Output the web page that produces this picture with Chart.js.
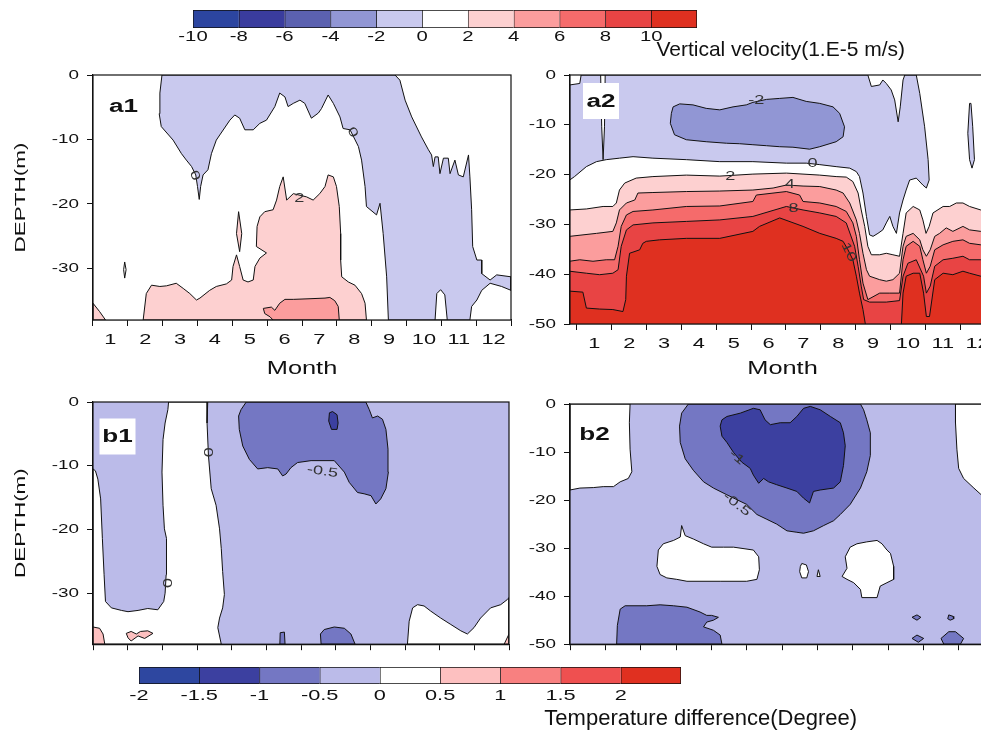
<!DOCTYPE html>
<html lang="en">
<head>
<meta charset="UTF-8">
<title>Vertical velocity and temperature difference</title>
<script src="https://cdn.jsdelivr.net/npm/chart.js"></script>
<style>
  html, body { margin: 0; overflow: hidden; background: #fff; }
  body { position: relative; width: 981px; height: 734px; font-family: 'Liberation Sans', Arial, sans-serif; }
  canvas { position: absolute; }
  .cbtitle { position: absolute; white-space: nowrap; line-height: 1; color: #111; }
</style>
</head>
<body>
<canvas id="cbTop" width="600" height="46" style="left:150px; top:0px"></canvas>
<div class="cbtitle" style="right:76px; top:38px; font-size:21px">Vertical velocity(1.E-5 m/s)</div>
<canvas id="a1" width="525" height="330" style="left:0px; top:55px"></canvas>
<canvas id="a2" width="480" height="330" style="left:525px; top:55px"></canvas>
<canvas id="b1" width="525" height="275" style="left:0px; top:385px"></canvas>
<canvas id="b2" width="480" height="275" style="left:525px; top:385px"></canvas>
<canvas id="cbBottom" width="640" height="52" style="left:100px; top:655px"></canvas>
<div class="cbtitle" style="right:124px; top:707px; font-size:22px">Temperature difference(Degree)</div>

<script>
// ---- axes ----
const months = [1, 2, 3, 4, 5, 6, 7, 8, 9, 10, 11, 12];
const depthTicks38 = [0, -10, -20, -30];
const depthTicks50 = [0, -10, -20, -30, -40, -50];

// ---- colour classes ----
const velLevels = [-10, -8, -6, -4, -2, 0, 2, 4, 6, 8, 10, 12];
const velTicks = [-10, -8, -6, -4, -2, 0, 2, 4, 6, 8, 10];
const velColors = ['#2c45a0', '#3a3c9e', '#5b61b0', '#9196d4', '#c9c9ee', '#ffffff',
                   '#fdd0d0', '#fb9d9d', '#f56b6b', '#e84444', '#df3020'];
const tempLevels = [-2, -1.5, -1, -0.5, 0, 0.5, 1, 1.5, 2, 2.5];
const tempTicks = [-2, -1.5, -1, -0.5, 0, 0.5, 1, 1.5, 2];
const tempColors = ['#2e47a0', '#3c40a0', '#7477c3', '#bbbbe9', '#ffffff',
                    '#fdc0c0', '#f88080', '#ef5050', '#e03020'];

// ---- a1: vertical velocity, contour regions as [month, depth] ----
const a1Neg = [[2.48,0],[9.17,0],[9.31,-0.8],[9.46,-3.9],[9.65,-6.5],[9.93,-9.6],[10.13,-11.6],[10.22,-12.4],[10.27,-14.2],[10.32,-12.7],[10.41,-12.7],[10.46,-15.3],[10.56,-12.9],[10.70,-12.9],[10.75,-15.3],[10.89,-13.2],[10.99,-15.5],[11.13,-15.8],[11.28,-12.4],[11.32,-15.8],[11.37,-20.9],[11.40,-26.6],[11.52,-28.7],[11.66,-28.7],[11.66,-30.8],[11.90,-31.8],[12.09,-31.0],[12.5,-31.3],[12.5,-33.4],[12.23,-32.8],[11.90,-32.3],[11.66,-33.4],[11.52,-34.9],[11.37,-35.9],[11.32,-38],[8.98,-38],[8.93,-31.3],[8.83,-24.6],[8.74,-19.9],[8.64,-21.7],[8.35,-20.4],[8.31,-17.3],[8.21,-13.2],[8.12,-11.1],[7.88,-8.5],[7.68,-8.3],[7.59,-6.5],[7.40,-4.4],[7.25,-3.1],[7.06,-5.2],[6.97,-5.9],[6.77,-6.7],[6.58,-4.4],[6.44,-3.9],[6.25,-4.4],[6.10,-4.9],[6.01,-3.4],[5.86,-2.8],[5.72,-4.9],[5.48,-7.0],[5.29,-7.5],[5.10,-8.5],[4.86,-8.5],[4.71,-6.7],[4.57,-6.2],[4.43,-7.0],[4.14,-9.3],[4.04,-10.1],[3.90,-12.2],[3.80,-14.7],[3.66,-15.5],[3.59,-17.3],[3.55,-19.3],[3.50,-17.3],[3.45,-15.5],[3.33,-14.2],[3.18,-13.2],[3.04,-12.2],[2.80,-10.1],[2.46,-8.0],[2.40,-6.0],[2.42,-2.8]];
const a1Gap = [[10.32,-38],[10.37,-33.9],[10.48,-33.3],[10.60,-34.1],[10.67,-38]];
const a1Pos2 = [[1.94,-38],[2.03,-33.9],[2.18,-32.6],[2.42,-32.8],[2.61,-32.7],[2.89,-32.3],[3.09,-33.1],[3.28,-33.9],[3.47,-34.9],[3.57,-34.6],[3.85,-33.4],[4.04,-32.8],[4.33,-32.4],[4.48,-31.8],[4.52,-29.7],[4.62,-27.9],[4.71,-29.7],[4.81,-31.8],[4.95,-32.1],[5.10,-31.8],[5.15,-29.7],[5.29,-28.4],[5.48,-27.6],[5.19,-26.6],[5.21,-23.5],[5.29,-22.0],[5.43,-21.2],[5.67,-20.9],[5.77,-19.4],[5.86,-17.3],[5.96,-15.8],[6.06,-19.4],[6.25,-18.4],[6.63,-18.9],[6.82,-19.4],[7.01,-18.4],[7.16,-17.3],[7.25,-15.5],[7.40,-15.8],[7.49,-17.3],[7.57,-20.4],[7.61,-24.6],[7.61,-28.7],[7.64,-31.3],[7.83,-32.1],[8.02,-32.6],[8.21,-33.9],[8.31,-35.4],[8.35,-38]];
const a1Spike = [[4.62,-24.6],[4.68,-21.2],[4.77,-24.6],[4.71,-27.4]];
const a1Corner = [[0.5,-35.4],[0.69,-36.7],[0.86,-38],[0.5,-38]];
const a1Pos4 = [[5.67,-38],[5.58,-37.5],[5.43,-37.0],[5.39,-36.2],[5.62,-36.0],[5.72,-36.5],[5.86,-35.4],[6.01,-34.8],[6.25,-34.8],[6.73,-34.7],[7.16,-34.6],[7.30,-34.5],[7.44,-35.0],[7.54,-35.9],[7.57,-38]];
const a1Loop = [[1.38,-30.2],[1.41,-29.0],[1.45,-30.2],[1.41,-31.5]];
const a1Labels = [[3.42,-15.6,'0',70],[7.95,-8.9,'0',60],[6.42,-19.2,'2',0]];

// ---- a2 ----
const a2Neg = [[0.62,0],[8.85,0],[8.95,-2.3],[9.19,-2.0],[9.28,-1.0],[9.38,-1.7],[9.52,-3.0],[9.62,-5.0],[9.72,-9.4],[9.78,-6.4],[9.86,-1.0],[9.91,0],[10.24,0],[10.34,-3.7],[10.48,-10.4],[10.58,-17.0],[10.61,-21.1],[10.53,-22.7],[10.43,-22.1],[10.24,-20.7],[10.05,-21.1],[9.95,-23.1],[9.86,-25.1],[9.76,-27.7],[9.67,-31.8],[9.57,-30.4],[9.48,-28.4],[9.38,-29.7],[9.28,-31.1],[9.14,-31.8],[9.00,-32.4],[8.90,-32.1],[8.81,-28.4],[8.71,-23.7],[8.61,-20.4],[8.52,-19.4],[8.33,-18.7],[7.94,-18.4],[7.47,-18.0],[7.08,-17.7],[6.51,-17.7],[5.55,-17.4],[4.60,-17.4],[3.64,-17.0],[2.68,-16.7],[2.11,-16.4],[1.72,-16.7],[1.34,-17.0],[1.06,-17.4],[0.77,-18.4],[0.43,-20.4],[0.29,-21.1],[0.29,-2.0],[0.58,-1.7]];
const a2Gap = [[1.18,0],[1.21,-10.4],[1.25,-17.0],[1.29,-10.4],[1.31,0]];
const a2Sliver = [[11.77,-5.7],[11.72,-11.7],[11.77,-17.0],[11.84,-18.7],[11.91,-17.0],[11.86,-10.4],[11.81,-5.7]];
const a2Neg2 = [[3.26,-6.4],[3.45,-5.8],[3.83,-6.0],[4.21,-6.7],[4.60,-7.0],[4.98,-6.4],[5.36,-6.0],[5.55,-5.5],[5.94,-4.9],[6.32,-4.7],[6.70,-4.5],[7.08,-5.3],[7.47,-5.7],[7.85,-6.4],[8.04,-7.7],[8.18,-10.4],[8.14,-12.4],[7.94,-13.4],[7.47,-14.4],[7.18,-14.9],[6.70,-14.5],[6.32,-14.4],[5.94,-14.2],[5.55,-14.0],[5.17,-13.8],[4.79,-13.7],[4.21,-13.4],[3.64,-13.0],[3.30,-12.0],[3.18,-9.7],[3.21,-7.7]];
// depth of the 2, 4, 6, 8 and 10 contours across the year
const a2C2 = [[0.29,-27.1],[0.77,-26.9],[1.25,-26.4],[1.53,-26.4],[1.63,-25.7],[1.72,-23.1],[1.87,-21.7],[2.20,-20.7],[2.68,-20.4],[3.64,-20.1],[4.60,-20.3],[5.55,-19.9],[6.51,-19.7],[7.47,-20.1],[7.94,-20.4],[8.23,-20.5],[8.42,-21.4],[8.57,-23.7],[8.66,-27.1],[8.76,-30.4],[8.85,-34.4],[8.95,-36.1],[9.19,-36.1],[9.38,-35.8],[9.57,-36.1],[9.76,-36.4],[9.86,-31.8],[9.95,-27.7],[10.15,-26.4],[10.34,-27.1],[10.43,-29.1],[10.52,-31.8],[10.61,-30.4],[10.72,-27.7],[11.01,-26.4],[11.20,-26.4],[11.39,-25.7],[11.58,-25.7],[11.77,-26.4],[12.09,-27.1],[12.5,-27.5]];
const a2C4 = [[0.29,-32.4],[1.06,-31.8],[1.53,-31.4],[1.63,-29.7],[1.72,-27.1],[1.92,-25.7],[2.16,-25.1],[2.25,-23.7],[2.68,-23.6],[3.64,-23.4],[4.60,-23.3],[5.55,-23.1],[6.13,-22.7],[6.51,-22.1],[6.99,-22.3],[7.47,-22.4],[7.94,-23.1],[8.14,-23.7],[8.33,-25.7],[8.52,-29.1],[8.61,-31.8],[8.71,-35.8],[8.81,-39.1],[8.90,-40.4],[9.19,-41.1],[9.38,-41.4],[9.57,-41.1],[9.76,-39.8],[9.86,-34.4],[9.95,-32.4],[10.15,-31.8],[10.34,-33.1],[10.43,-35.1],[10.53,-36.4],[10.64,-35.1],[10.77,-32.4],[10.91,-31.8],[11.10,-30.7],[11.29,-31.4],[11.58,-30.4],[11.77,-31.1],[12.09,-31.4],[12.5,-31.6]];
const a2C6 = [[0.29,-37.4],[0.58,-37.1],[0.96,-37.4],[1.34,-37.1],[1.58,-37.1],[1.68,-34.4],[1.77,-30.4],[1.92,-28.1],[2.11,-27.4],[2.68,-27.1],[3.64,-26.4],[4.60,-26.3],[5.55,-25.4],[5.65,-24.1],[6.51,-23.4],[6.89,-24.1],[6.99,-25.4],[7.47,-25.7],[7.94,-26.4],[8.23,-27.4],[8.42,-29.7],[8.52,-32.4],[8.61,-37.1],[8.71,-41.8],[8.85,-45.1],[9.19,-43.8],[9.48,-43.8],[9.76,-43.8],[9.86,-37.1],[9.95,-34.4],[10.15,-33.4],[10.34,-34.4],[10.43,-37.1],[10.53,-39.8],[10.64,-38.4],[10.77,-35.1],[11.01,-34.1],[11.29,-33.4],[11.58,-33.1],[11.77,-33.8],[12.09,-34.1],[12.5,-34.4]];
const a2C8 = [[0.29,-39.4],[0.77,-39.8],[1.15,-40.1],[1.53,-39.8],[1.68,-39.1],[1.77,-34.4],[1.92,-31.1],[2.11,-30.1],[2.68,-29.7],[3.64,-29.4],[4.60,-29.1],[5.55,-28.4],[6.51,-26.4],[6.99,-27.1],[7.47,-27.7],[7.94,-28.4],[8.23,-29.7],[8.47,-34.4],[8.57,-38.4],[8.66,-42.4],[8.73,-45.1],[8.90,-45.6],[9.38,-45.6],[9.76,-45.3],[9.86,-40.4],[10.00,-37.8],[10.24,-37.1],[10.45,-40.4],[10.53,-43.8],[10.64,-42.4],[10.77,-38.4],[11.01,-37.1],[11.29,-36.8],[11.58,-36.4],[11.77,-37.1],[12.09,-37.1],[12.5,-37.4]];
const a2C10 = [[0.29,-43.4],[0.67,-43.6],[0.77,-46.8],[1.15,-47.0],[1.53,-47.1],[1.82,-47.5],[1.90,-45.1],[1.92,-40.4],[2.01,-35.8],[2.30,-35.1],[2.39,-33.8],[2.49,-33.4],[2.87,-33.1],[3.64,-32.8],[4.60,-32.8],[5.55,-31.4],[5.74,-30.4],[6.32,-28.7],[6.99,-30.4],[7.47,-31.8],[7.94,-32.8],[8.14,-33.4],[8.28,-35.1],[8.42,-37.1],[8.52,-40.4],[8.61,-43.8],[8.71,-47.1],[8.79,-50.5],[9.81,-50.5],[9.86,-43.8],[9.95,-40.4],[10.15,-39.8],[10.34,-39.8],[10.45,-43.8],[10.53,-48.5],[10.62,-48.5],[10.77,-41.1],[11.01,-39.8],[11.29,-40.1],[11.58,-39.4],[11.77,-39.8],[12.09,-40.4],[12.5,-40.6]];
const a2Labels = [[5.65,-5.2,'-2',0],[7.26,-17.8,'0',0],[4.90,-20.3,'2',0],[6.61,-21.9,'4',0],[6.72,-26.9,'8',0],[8.30,-35.6,'10',65]];

// ---- b1: temperature difference ----
const b1White = [[0.5,-10.5],[0.57,-10.8],[0.64,-12.1],[0.72,-15.2],[0.77,-21.4],[0.82,-27.1],[0.86,-31.3],[1.03,-32.3],[1.32,-32.7],[1.51,-32.9],[1.80,-32.7],[2.08,-32.4],[2.37,-32.6],[2.54,-31.3],[2.58,-30.0],[2.61,-27.1],[2.63,-24.0],[2.61,-21.4],[2.56,-19.9],[2.52,-16.2],[2.49,-11.0],[2.52,-5.9],[2.58,-3.3],[2.66,-1.2],[2.68,0],[3.81,0],[3.79,-3.3],[3.83,-8.4],[3.91,-13.6],[4.05,-16.2],[4.15,-19.9],[4.20,-23.0],[4.24,-26.6],[4.29,-30.2],[4.24,-32.3],[4.15,-33.9],[4.10,-35.4],[4.20,-38],[0.5,-38]];
const b1Warm = [[0.5,-35.3],[0.69,-35.5],[0.79,-36.4],[0.84,-38],[0.5,-38]];
const b1Warm2 = [[1.46,-36.3],[1.60,-36.0],[1.75,-36.4],[1.87,-36.0],[2.08,-35.9],[2.23,-36.3],[1.99,-37.1],[1.80,-36.7],[1.60,-37.5],[1.51,-37.0]];
const b1White2 = [[9.57,-38],[9.62,-34.4],[9.72,-32.3],[9.86,-31.8],[10.05,-32.0],[10.24,-32.8],[10.53,-33.9],[10.82,-34.9],[11.11,-35.9],[11.30,-36.4],[11.49,-35.4],[11.68,-33.9],[11.97,-32.3],[12.26,-31.8],[12.45,-31.0],[12.5,-30.7],[12.5,-38]];
const b1Warm3 = [[12.36,-38],[12.5,-36.4],[12.5,-38]];
const b1Cold = [[4.92,0],[4.77,-1.2],[4.70,-2.2],[4.72,-4.3],[4.82,-6.9],[5.01,-9.0],[5.25,-10.5],[5.54,-10.3],[5.83,-10.5],[5.97,-11.6],[6.07,-11.3],[6.21,-10.3],[6.40,-9.5],[6.79,-9.2],[7.46,-9.2],[7.75,-11.0],[7.89,-12.6],[8.13,-14.2],[8.32,-14.4],[8.52,-14.7],[8.66,-16.0],[8.80,-15.2],[8.95,-13.6],[9.02,-11.0],[9.01,-7.4],[8.95,-4.3],[8.85,-2.7],[8.71,-2.2],[8.56,-2.5],[8.47,-1.2],[8.37,0]];
const b1Colder = [[7.32,-1.7],[7.41,-1.5],[7.54,-2.0],[7.57,-3.3],[7.54,-4.3],[7.38,-4.3],[7.30,-3.0]];
const b1Cold2 = [[7.08,-38],[7.06,-36.4],[7.17,-35.7],[7.46,-35.3],[7.75,-35.5],[7.94,-36.4],[8.06,-38]];
const b1Cold3 = [[5.89,-38],[5.90,-36.2],[6.02,-36.1],[6.04,-38]];
const b1Labels = [[3.81,-7.9,'0',90],[7.12,-10.9,'-0.5',8],[2.61,-28.4,'0',90]];

// ---- b2 ----
const b2White = [[0.5,0],[2.20,0],[2.18,-3.9],[2.20,-9.4],[2.25,-14.1],[2.15,-15.5],[1.92,-16.2],[1.73,-17.2],[1.44,-17.2],[1.16,-17.4],[0.78,-17.5],[0.5,-17.9]];
const b2White2 = [[11.41,0],[11.41,-3.9],[11.45,-9.4],[11.50,-13.4],[11.64,-15.5],[11.93,-17.5],[12.14,-18.9],[12.5,-19.6],[12.5,0]];
const b2White3 = [[2.96,-33.8],[3.00,-30.4],[3.14,-29.1],[3.43,-28.4],[3.62,-27.7],[3.66,-25.3],[3.76,-27.4],[3.99,-28.1],[4.28,-29.1],[4.51,-29.8],[4.84,-29.8],[5.13,-29.8],[5.69,-30.4],[5.84,-31.8],[5.86,-34.5],[5.79,-36.5],[5.50,-36.9],[4.75,-36.9],[3.81,-36.9],[3.52,-36.5],[3.24,-36.2],[3.05,-35.5]];
const b2White4 = [[8.20,-35.9],[8.34,-34.2],[8.29,-31.8],[8.43,-29.8],[8.62,-29.1],[8.90,-28.7],[9.19,-28.4],[9.33,-29.1],[9.47,-30.4],[9.57,-31.1],[9.66,-33.8],[9.66,-36.5],[9.47,-37.2],[9.28,-37.9],[9.19,-40.3],[8.76,-40.3],[8.72,-38.6],[8.53,-37.2],[8.34,-36.5]];
const b2White5 = [[7.02,-33.8],[7.06,-33.2],[7.19,-33.5],[7.25,-34.9],[7.20,-36.2],[7.06,-36.2],[7.00,-34.9]];
const b2White6 = [[7.53,-34.5],[7.49,-35.9],[7.58,-35.9]];
const b2Cold = [[3.85,0],[3.66,-1.9],[3.60,-4.6],[3.62,-8.0],[3.76,-11.4],[3.99,-13.8],[4.28,-16.2],[4.56,-17.5],[4.94,-18.9],[5.50,-20.9],[5.79,-23.0],[6.07,-24.0],[6.35,-25.0],[6.64,-26.4],[6.92,-26.7],[7.11,-26.9],[7.39,-26.4],[7.68,-25.3],[7.96,-24.3],[8.15,-23.0],[8.43,-20.9],[8.72,-17.5],[8.90,-14.1],[9.00,-10.7],[9.00,-6.0],[8.90,-3.3],[8.81,-1.2],[8.72,0]];
const b2Colder = [[4.75,-4.6],[4.80,-3.3],[4.94,-2.6],[5.32,-1.9],[5.69,-0.9],[5.88,-1.2],[6.02,-3.3],[6.17,-4.3],[6.45,-3.9],[6.73,-3.9],[6.92,-2.6],[7.11,-0.9],[7.30,-0.5],[7.58,-1.2],[7.87,-2.6],[8.15,-3.9],[8.24,-6.0],[8.29,-8.7],[8.24,-12.8],[8.15,-16.2],[7.96,-17.5],[7.58,-17.9],[7.39,-18.2],[7.28,-20.6],[7.11,-19.6],[6.92,-18.2],[6.64,-17.5],[6.35,-16.8],[6.12,-16.2],[5.98,-15.5],[5.84,-16.5],[5.69,-14.8],[5.60,-13.4],[5.36,-12.1],[5.13,-10.1],[4.94,-8.0],[4.80,-6.7]];
const b2Cold2 = [[1.82,-50],[1.84,-46.1],[1.92,-42.7],[2.06,-42.0],[2.34,-42.0],[2.67,-42.0],[3.05,-41.8],[3.43,-42.0],[3.81,-42.3],[4.18,-43.3],[4.37,-44.0],[4.51,-44.0],[4.70,-44.4],[4.56,-45.0],[4.37,-45.4],[4.28,-46.4],[4.56,-47.1],[4.75,-48.1],[4.80,-50]];
const b2Cold3 = [[10.18,-44.4],[10.32,-43.9],[10.43,-44.4],[10.32,-45.0]];
const b2Cold4 = [[11.22,-43.9],[11.34,-44.2],[11.36,-44.7],[11.26,-45.0],[11.19,-44.7]];
const b2Cold5 = [[10.18,-48.8],[10.32,-48.1],[10.51,-48.8],[10.36,-49.6]];
const b2Cold6 = [[11.00,-48.8],[11.22,-47.4],[11.41,-47.4],[11.64,-48.8],[11.55,-50],[11.08,-50]];
const b2Labels = [[5.22,-11.1,'-1',40],[5.22,-20.9,'-0.5',38]];

// ---------------------------------------------------------------
Chart.defaults.font.family = "'Liberation Sans', Arial, sans-serif";
Chart.defaults.color = '#111';
Chart.defaults.animation = false;

// the figure's lettering is a very wide sans; stretch every glyph along its baseline
const WIDE = 1.45;
function widen(canvas) {
  const ctx = canvas.getContext('2d');
  const fillText = ctx.fillText;
  ctx.fillText = function (text, x, y) {
    this.save();
    this.translate(x, y);
    this.scale(WIDE, 1);
    fillText.call(this, text, 0, 0);
    this.restore();
  };
}

// whole plotting window for a panel, used as the background class
function box(xMin, yMin) {
  return [[xMin, 0], [12.6, 0], [12.6, yMin], [xMin, yMin]];
}
// area under a contour line down to the floor of the panel
function below(line) {
  return line.concat([[12.6, -51], [0.2, -51]]);
}

// frame, contour values and the panel tag
const panelText = {
  id: 'panelText',
  afterDatasetsDraw(chart, args, opts) {
    const {ctx, chartArea: area, scales: {x, y}} = chart;
    ctx.save();
    ctx.font = "12.5px 'Liberation Sans', Arial, sans-serif";
    ctx.fillStyle = '#333';
    ctx.textAlign = 'center';
    ctx.textBaseline = 'middle';
    for (const [m, d, txt, rot] of opts.labels) {
      ctx.save();
      ctx.translate(x.getPixelForValue(m), y.getPixelForValue(d));
      ctx.rotate(rot * Math.PI / 180);
      ctx.fillText(txt, 0, 0);
      ctx.restore();
    }
    ctx.strokeStyle = '#111';
    ctx.lineWidth = 1.2;
    ctx.strokeRect(area.left, area.top, area.width, area.height);

    const cx = area.left + opts.tagAt[0];
    const cy = area.top + opts.tagAt[1];
    ctx.fillStyle = '#fff';
    ctx.fillRect(cx - 18, cy - 18, 36, 36);
    ctx.font = "bold 18px 'Liberation Sans', Arial, sans-serif";
    ctx.fillStyle = '#111';
    ctx.fillText(opts.tag, cx, cy + 1);
    ctx.restore();
  }
};

function panel(id, cfg) {
  const canvas = document.getElementById(id);
  widen(canvas);
  const n = cfg.layers.length;
  const datasets = cfg.layers.map(([pts, color, edge], i) => ({
    data: pts.concat([pts[0]]).map(([m, d]) => ({x: m, y: d})),
    fill: 'shape',
    backgroundColor: color,
    borderColor: '#111',
    borderWidth: edge === false ? 0 : 1,
    pointRadius: 0,
    tension: 0,
    order: n - i
  }));
  return new Chart(canvas, {
    type: 'line',
    data: {datasets},
    options: {
      responsive: false,
      events: [],
      layout: {padding: cfg.padding},
      plugins: {
        legend: {display: false},
        tooltip: {enabled: false},
        panelText: {tag: cfg.tag, tagAt: cfg.tagAt, labels: cfg.labels}
      },
      scales: {
        x: {
          type: 'linear', min: cfg.xMin, max: 12.5,
          afterBuildTicks: s => { s.ticks = months.map(v => ({value: v})); },
          afterFit: s => { s.height = cfg.xHeight; },
          grid: {offset: true, drawOnChartArea: false, tickLength: 6, color: '#111'},
          border: {color: '#111', width: 1.2},
          ticks: {display: cfg.monthLabels, autoSkip: false, maxRotation: 0, padding: 5, font: {size: 15}},
          title: {display: cfg.monthLabels, text: 'Month', font: {size: 17.5}, padding: {top: 5, bottom: 5}}
        },
        y: {
          type: 'linear', min: cfg.yMin, max: 0,
          afterBuildTicks: s => { s.ticks = cfg.yTicks.map(v => ({value: v})); },
          afterFit: s => { s.width = cfg.yWidth; },
          grid: {drawOnChartArea: false, tickLength: 6, color: '#111'},
          border: {color: '#111', width: 1.2},
          ticks: {padding: 8, font: {size: 13}},
          title: {display: cfg.depthTitle, text: 'DEPTH(m)', font: {size: 15.5}, padding: {top: 11, bottom: 11}}
        }
      }
    },
    plugins: [panelText]
  });
}

function colorbar(id, levels, colors, ticks, cfg) {
  const canvas = document.getElementById(id);
  widen(canvas);
  const last = colors.length - 1;
  return new Chart(canvas, {
    type: 'bar',
    data: {
      labels: [''],
      datasets: colors.map((c, i) => ({
        data: [[levels[i], levels[i + 1]]],
        backgroundColor: c,
        borderColor: '#111',
        borderWidth: i === last ? 1 : {top: 1, bottom: 1, left: 1, right: 0},
        borderSkipped: false,
        grouped: false,
        barPercentage: 1,
        categoryPercentage: 1
      }))
    },
    options: {
      indexAxis: 'y',
      responsive: false,
      events: [],
      layout: {padding: cfg.padding},
      plugins: {legend: {display: false}, tooltip: {enabled: false}},
      scales: {
        x: {
          type: 'linear', min: levels[0], max: levels[levels.length - 1],
          afterBuildTicks: s => { s.ticks = ticks.map(v => ({value: v})); },
          afterFit: s => { s.height = cfg.axisHeight; },
          grid: {display: false, drawTicks: false},
          border: {display: false},
          ticks: {padding: cfg.labelPad, font: {size: cfg.fontSize}, callback: v => String(v)}
        },
        y: {display: false}
      }
    }
  });
}

colorbar('cbTop', velLevels, velColors, velTicks,
  {padding: {left: 43, right: 53, top: 10, bottom: 0}, axisHeight: 18, labelPad: 1, fontSize: 14});
colorbar('cbBottom', tempLevels, tempColors, tempTicks,
  {padding: {left: 39, right: 59, top: 12, bottom: 0}, axisHeight: 23, labelPad: 3, fontSize: 15});

panel('a1', {
  tag: 'a1', tagAt: [30.5, 31], labels: a1Labels,
  padding: {top: 20, right: 14, left: 0, bottom: 0},
  xMin: 0.5, yMin: -38, yTicks: depthTicks38, yWidth: 93, xHeight: 65,
  monthLabels: true, depthTitle: true,
  layers: [
    [box(0.5, -38), velColors[5], false],
    [a1Neg, velColors[4]],
    [a1Gap, velColors[5]],
    [a1Pos2, velColors[6]],
    [a1Spike, velColors[6]],
    [a1Corner, velColors[6]],
    [a1Pos4, velColors[7]],
    [a1Loop, velColors[5]]
  ]
});

panel('a2', {
  tag: 'a2', tagAt: [31, 26], labels: a2Labels,
  padding: {top: 20, right: 10, left: 0, bottom: 0},
  xMin: 0.3, yMin: -50, yTicks: depthTicks50, yWidth: 45, xHeight: 61,
  monthLabels: true, depthTitle: false,
  layers: [
    [box(0.2, -50), velColors[5], false],
    [a2Neg, velColors[4]],
    [a2Gap, velColors[5]],
    [a2Sliver, velColors[4]],
    [a2Neg2, velColors[3]],
    [below(a2C2), velColors[6]],
    [below(a2C4), velColors[7]],
    [below(a2C6), velColors[8]],
    [below(a2C8), velColors[9]],
    [below(a2C10), velColors[10]]
  ]
});

panel('b1', {
  tag: 'b1', tagAt: [24.5, 34.5], labels: b1Labels,
  padding: {top: 17, right: 16, left: 0, bottom: 0},
  xMin: 0.5, yMin: -38, yTicks: depthTicks38, yWidth: 93, xHeight: 14,
  monthLabels: false, depthTitle: true,
  layers: [
    [box(0.5, -38), tempColors[3], false],
    [b1White, tempColors[4]],
    [b1Warm, tempColors[5]],
    [b1Warm2, tempColors[5]],
    [b1White2, tempColors[4]],
    [b1Warm3, tempColors[5]],
    [b1Cold, tempColors[2]],
    [b1Colder, tempColors[1]],
    [b1Cold2, tempColors[2]],
    [b1Cold3, tempColors[2]]
  ]
});

panel('b2', {
  tag: 'b2', tagAt: [24.5, 30.5], labels: b2Labels,
  padding: {top: 19, right: 11, left: 0, bottom: 0},
  xMin: 0.5, yMin: -50, yTicks: depthTicks50, yWidth: 45, xHeight: 11,
  monthLabels: false, depthTitle: false,
  layers: [
    [box(0.5, -50), tempColors[3], false],
    [b2White, tempColors[4]],
    [b2White2, tempColors[4]],
    [b2White3, tempColors[4]],
    [b2White4, tempColors[4]],
    [b2White5, tempColors[4]],
    [b2White6, tempColors[4]],
    [b2Cold, tempColors[2]],
    [b2Colder, tempColors[1]],
    [b2Cold2, tempColors[2]],
    [b2Cold3, tempColors[2]],
    [b2Cold4, tempColors[2]],
    [b2Cold5, tempColors[2]],
    [b2Cold6, tempColors[2]]
  ]
});
</script>
</body>
</html>
